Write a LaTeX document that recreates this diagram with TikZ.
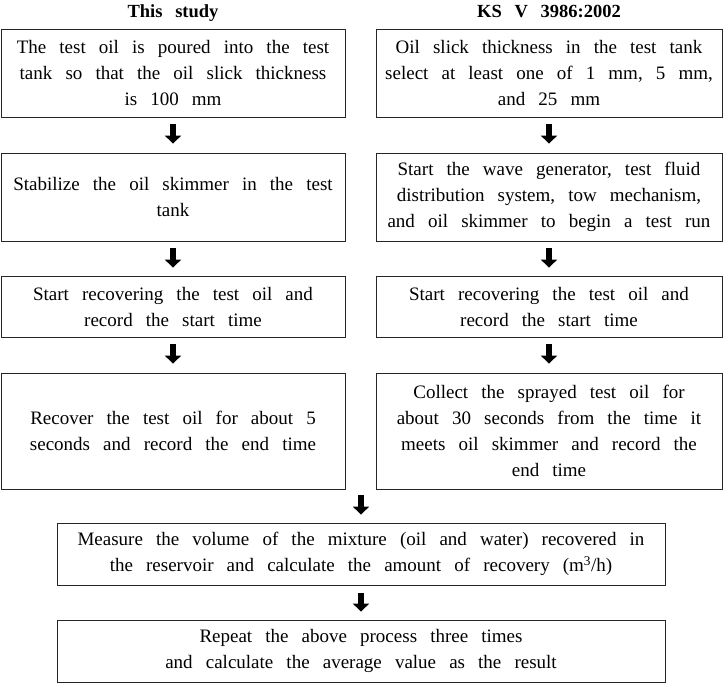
\documentclass[tikz,border=0pt]{standalone}
\usepackage{fontspec}
\setmainfont{Liberation Serif}
\usetikzlibrary{arrows.meta}
\begin{document}
\begin{tikzpicture}[x=1pt,y=-1pt,
  stepbox/.style={draw=black!85, line width=0.8pt, align=center, inner xsep=2pt, inner ysep=0pt,
    font=\fontsize{19}{26}\selectfont, execute at begin node={\spaceskip=0.69em\relax}},
  headtxt/.style={anchor=base, inner sep=0pt, font=\fontsize{18.5}{22}\selectfont\bfseries,
    execute at begin node={\spaceskip=0.69em\relax}},
  flow/.style={line width=5.5pt, -{Triangle[length=8pt,width=16pt]}}]
\useasboundingbox (0,0) rectangle (723,683);

\node[headtxt] (hL) at (173,17) {This study};
\node[headtxt] (hR) at (549,17) {KS V 3986:2002};

\node[stepbox, text width=340pt, minimum height=88pt] (L1) at (173,73)
  {The test oil is poured into the test\\tank so that the oil slick thickness\\is 100 mm};
\node[stepbox, text width=340pt, minimum height=88pt] (L2) at (173,197)
  {Stabilize the oil skimmer in the test\\tank};
\node[stepbox, text width=340pt, minimum height=60.5pt] (L3) at (173,306.75)
  {Start recovering the test oil and\\record the start time};
\node[stepbox, text width=340pt, minimum height=116pt] (L4) at (173,431)
  {Recover the test oil for about 5\\seconds and record the end time};

\node[stepbox, text width=342pt, minimum height=88pt] (R1) at (549,73)
  {Oil slick thickness in the test tank\\select at least one of 1 mm, 5 mm,\\and 25 mm};
\node[stepbox, text width=342pt, minimum height=88pt] (R2) at (549,197)
  {Start the wave generator, test fluid\\distribution system, tow mechanism,\\and oil skimmer to begin a test run};
\node[stepbox, text width=342pt, minimum height=60.5pt] (R3) at (549,306.75)
  {Start recovering the test oil and\\record the start time};
\node[stepbox, text width=342pt, minimum height=116pt] (R4) at (549,431)
  {Collect the sprayed test oil for\\about 30 seconds from the time it\\meets oil skimmer and record the\\end time};

\node[stepbox, text width=604pt, minimum height=61.5pt] (B1) at (361,554.25)
  {Measure the volume of the mixture (oil and water) recovered in\\the reservoir and calculate the amount of recovery (m\textsuperscript{3}/h)};
\node[stepbox, text width=604pt, minimum height=62pt] (B2) at (361,651)
  {Repeat the above process three times\\and calculate the average value as the result};

\coordinate (join) at (361,489);

\draw[flow, shorten <=7pt, shorten >=9pt] (L1.south) -- (L2.north);
\draw[flow, shorten <=7pt, shorten >=8.5pt] (L2.south) -- (L3.north);
\draw[flow, shorten <=7pt, shorten >=9pt] (L3.south) -- (L4.north);
\draw[flow, shorten <=7pt, shorten >=9pt] (R1.south) -- (R2.north);
\draw[flow, shorten <=7pt, shorten >=8.5pt] (R2.south) -- (R3.north);
\draw[flow, shorten <=7pt, shorten >=9pt] (R3.south) -- (R4.north);
\draw[flow, shorten <=6pt, shorten >=8.5pt] (join) -- (B1.north);
\draw[flow, shorten <=8pt, shorten >=8pt] (B1.south) -- (B2.north);
\end{tikzpicture}
\end{document}
